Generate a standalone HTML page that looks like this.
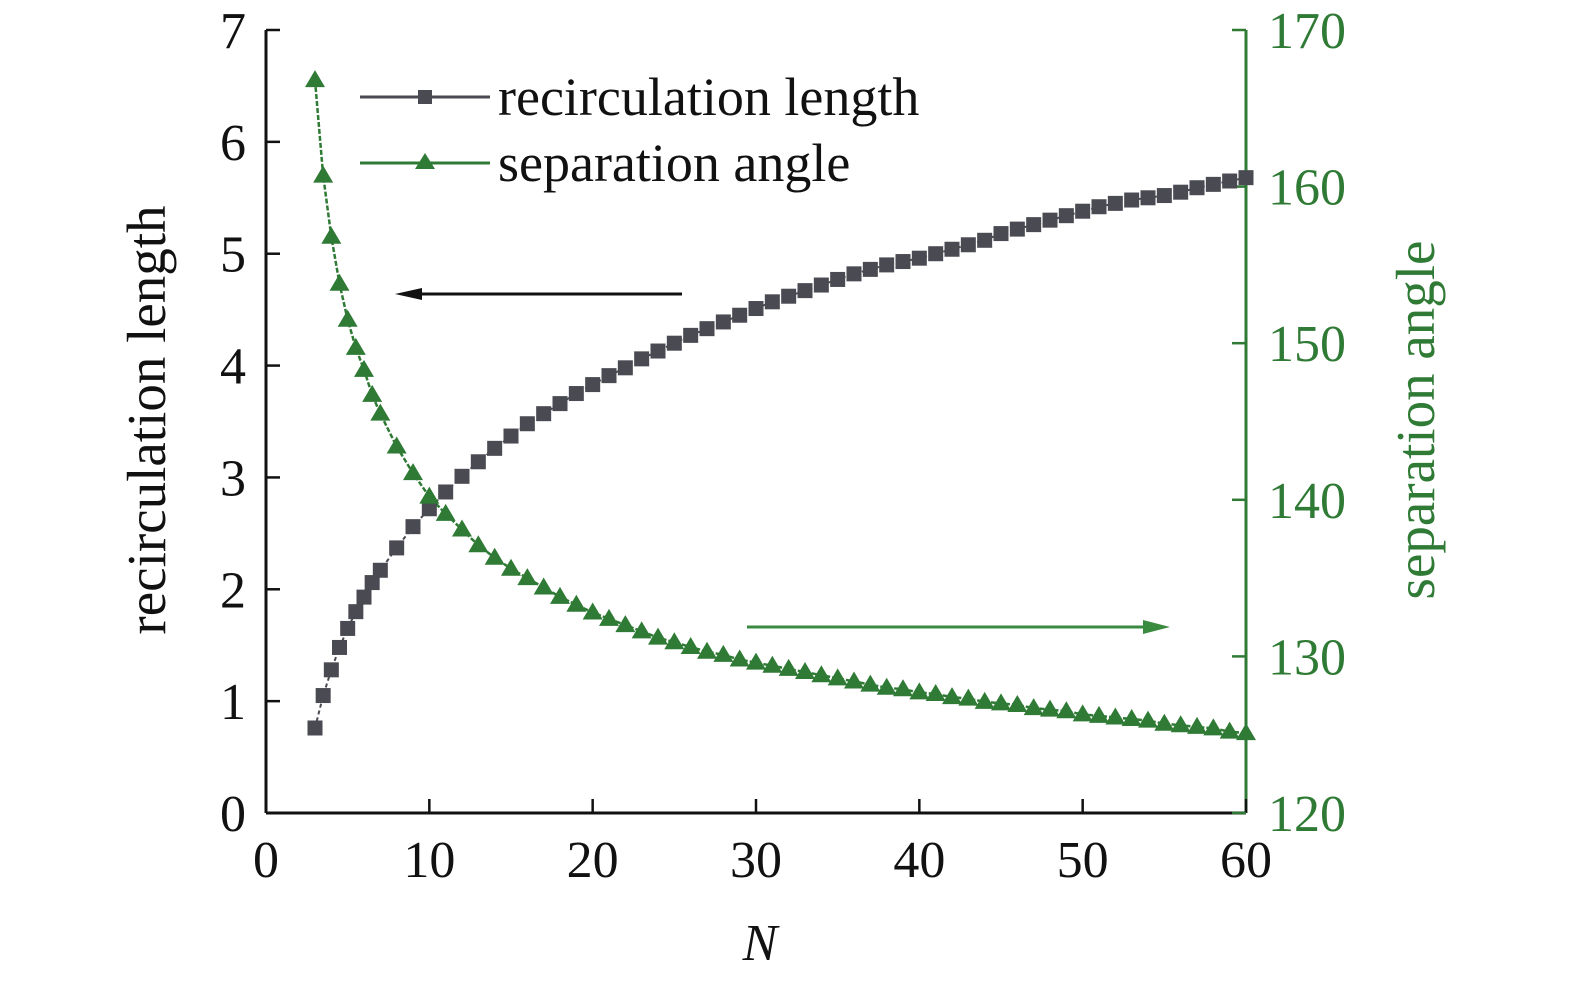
<!DOCTYPE html>
<html><head><meta charset="utf-8"><style>
body{margin:0;background:#fff}
svg text{font-family:"Liberation Serif",serif}
</style></head><body>
<svg id="chart" width="1575" height="982" xmlns="http://www.w3.org/2000/svg">
<g id="axes"></g>
<g id="series"></g>
<g>
 <line x1="360" y1="97" x2="490" y2="97" stroke="#4a4a52" stroke-width="3"/>
 <rect x="418" y="90" width="14" height="14" fill="#4a4a52"/>
 <text x="498" y="115" font-size="54" fill="#111">recirculation length</text>
 <line x1="360" y1="163" x2="490" y2="163" stroke="#2f7a35" stroke-width="3"/>
 <polygon points="425,153 415,169 435,169" fill="#2f7a35"/>
 <text x="498" y="181" font-size="54" fill="#111">separation angle</text>
</g>
<g>
 <line x1="682" y1="294" x2="410" y2="294" stroke="#111" stroke-width="3"/>
 <polygon points="395,294 422,288 422,300" fill="#111"/>
</g>
<g>
 <line x1="747" y1="627" x2="1150" y2="627" stroke="#3a8a40" stroke-width="3"/>
 <polygon points="1170,627 1143,620 1143,634" fill="#3a8a40"/>
</g>
<text transform="translate(165,420) rotate(-90)" text-anchor="middle" font-size="55" fill="#111">recirculation length</text>
<text transform="translate(1434,420) rotate(-90)" text-anchor="middle" font-size="55" fill="#2f7a35">separation angle</text>
<text x="760" y="960" text-anchor="middle" font-size="52" font-style="italic" fill="#111">N</text>
</svg>
<script>
const nValues=[3,3.5,4,4.5,5,5.5,6,6.5,7,8,9,10,11,12,13,14,15,16,17,18,19,20,21,22,23,24,25,26,27,28,29,30,31,32,33,34,35,36,37,38,39,40,41,42,43,44,45,46,47,48,49,50,51,52,53,54,55,56,57,58,59,60];
const recirc=[0.76,1.05,1.28,1.48,1.65,1.8,1.93,2.06,2.17,2.37,2.56,2.72,2.87,3.01,3.14,3.26,3.37,3.48,3.57,3.66,3.75,3.83,3.91,3.98,4.06,4.13,4.2,4.27,4.33,4.39,4.45,4.51,4.57,4.62,4.67,4.72,4.77,4.82,4.86,4.9,4.93,4.96,5.0,5.04,5.08,5.12,5.18,5.22,5.26,5.3,5.34,5.38,5.42,5.45,5.48,5.5,5.52,5.55,5.59,5.62,5.65,5.68];
const sepAngle=[166.8,160.7,156.8,153.8,151.5,149.7,148.3,146.7,145.5,143.4,141.7,140.2,139.1,138.1,137.1,136.3,135.6,135.0,134.4,133.8,133.3,132.8,132.4,132.0,131.6,131.2,130.9,130.6,130.3,130.1,129.8,129.6,129.4,129.2,129.0,128.8,128.6,128.4,128.2,128.0,127.9,127.7,127.6,127.4,127.3,127.1,127.0,126.9,126.7,126.6,126.5,126.3,126.2,126.1,126.0,125.9,125.7,125.6,125.5,125.4,125.2,125.1];
const xTicks=[0,10,20,30,40,50,60];
const yLeftTicks=[0,1,2,3,4,5,6,7];
const yRightTicks=[120,130,140,150,160,170];
const X0=266,X1=1246,Y0=813,Y1=30;
const sx=v=>X0+(v-0)/(60-0)*(X1-X0);
const syL=v=>Y0-(v-0)/(7-0)*(Y0-Y1);
const syR=v=>Y0-(v-120)/(170-120)*(Y0-Y1);
const NS='http://www.w3.org/2000/svg';
function mk(parent,tag,attrs){const e=document.createElementNS(NS,tag);for(const k in attrs)e.setAttribute(k,attrs[k]);parent.appendChild(e);return e;}
const ax=document.getElementById('axes'),se=document.getElementById('series');
let e;
e=mk(ax,'line',{x1:X0,y1:Y1,x2:X0,y2:Y0,stroke:'#111','stroke-width':3});

e=mk(ax,'line',{x1:X0,y1:Y0,x2:X1,y2:Y0,stroke:'#111','stroke-width':3});

e=mk(ax,'line',{x1:X1,y1:Y1,x2:X1,y2:Y0,stroke:'#2f7a35','stroke-width':3});

xTicks.forEach(t=>{
 e=mk(ax,'line',{x1:sx(t),y1:Y0,x2:sx(t),y2:Y0-14,stroke:'#111','stroke-width':2.5});
 
 e=mk(ax,'text',{x:sx(t),y:Y0+64,'text-anchor':'middle','font-size':52,fill:'#111'});e.textContent=t;
 
});
yLeftTicks.forEach(t=>{
 e=mk(ax,'line',{x1:X0,y1:syL(t),x2:X0+14,y2:syL(t),stroke:'#111','stroke-width':2.5});
 
 e=mk(ax,'text',{x:X0-20,y:syL(t)+18,'text-anchor':'end','font-size':52,fill:'#111'});e.textContent=t;
 
});
yRightTicks.forEach(t=>{
 e=mk(ax,'line',{x1:X1,y1:syR(t),x2:X1-14,y2:syR(t),stroke:'#2f7a35','stroke-width':2.5});
 
 e=mk(ax,'text',{x:X1+22,y:syR(t)+18,'font-size':52,fill:'#2f7a35'});e.textContent=t;
 
});
e=mk(se,'polyline',{points:nValues.map((n,i)=>sx(n)+','+syL(recirc[i])).join(' '),fill:'none',stroke:'#4a4a52','stroke-width':2,'stroke-dasharray':'4 3'});

e=mk(se,'polyline',{points:nValues.map((n,i)=>sx(n)+','+syR(sepAngle[i])).join(' '),fill:'none',stroke:'#2f7a35','stroke-width':2.5,'stroke-dasharray':'5 2'});

nValues.forEach((n,i)=>{
 const x=sx(n),y=syL(recirc[i]);
 e=mk(se,'rect',{x:x-7.5,y:y-7.5,width:15,height:15,fill:'#4a4a52'});
 
});
nValues.forEach((n,i)=>{
 const x=sx(n),y=syR(sepAngle[i]);
 e=mk(se,'polygon',{points:`${x},${y-10} ${x-10},${y+7} ${x+10},${y+7}`,fill:'#2f7a35'});
 
});
</script>
</body></html>
